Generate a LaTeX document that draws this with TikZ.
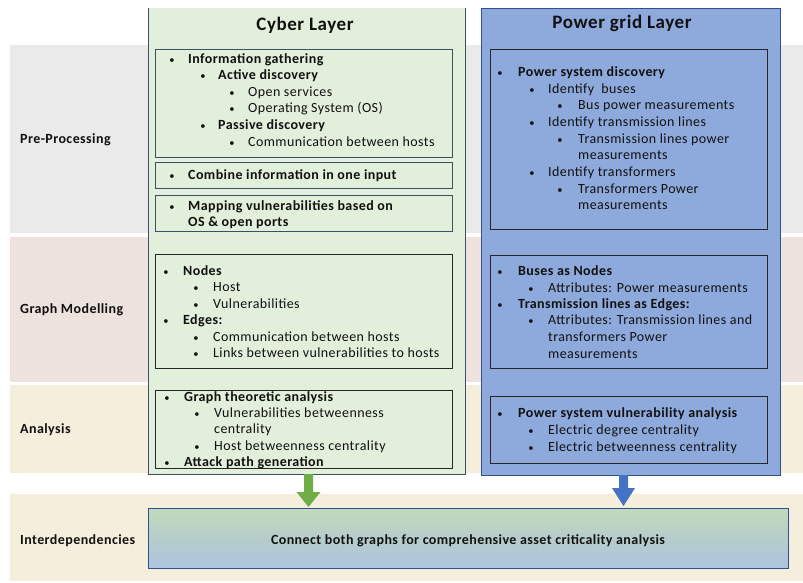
\documentclass[tikz,border=0pt]{standalone}
\usepackage{fontspec}
\setmainfont{Carlito}[LetterSpace=3]
\usetikzlibrary{calc}
\definecolor{bandgray}{HTML}{EBEAEA}
\definecolor{bandpink}{HTML}{EDE2DD}
\definecolor{bandcream}{HTML}{F5EEDC}
\definecolor{cyberfill}{HTML}{E2EFDA}
\definecolor{cyberline}{HTML}{3B4F6B}
\definecolor{powerfill}{HTML}{8EA9DB}
\definecolor{powerline}{HTML}{2F528F}
\definecolor{greenarrow}{HTML}{70AD47}
\definecolor{bluearrow}{HTML}{4472C4}
\definecolor{inkc}{HTML}{111111}
\definecolor{shA}{HTML}{C8D7F0}
\definecolor{shB}{HTML}{ABC0E8}
\definecolor{shC}{HTML}{B6CDCB}
\definecolor{shD}{HTML}{C6E0B4}
\pgfdeclareverticalshading{interfill}{100bp}{
  color(0bp)=(shA);
  color(15bp)=(shB);
  color(50bp)=(shC);
  color(85bp)=(shD);
  color(100bp)=(shD)}
\newcommand{\boxat}[6]{\node[#6, minimum width={(#4-#2)*1pt}, minimum height={(#5-#3)*1pt}] (#1) at ({(#2+#4)/2},{(#3+#5)/2}) {};}
\newcommand{\ent}[6]{\node[bul] (#1b) at (#2,#4) {\textbullet};\node[txt,#6] (#1) at (#3,#4) {#5};}
\begin{document}
\begin{tikzpicture}[x=1pt,y=-1pt,
  txt/.style={anchor=base west,inner sep=0pt,text=inkc,font=\fontsize{14}{16}\selectfont},
  bf/.style={font=\bfseries\fontsize{14}{16}\selectfont},
  bul/.style={anchor=base,inner sep=0pt,text=inkc,font=\fontsize{10.5}{12}\selectfont},
  band/.style={rectangle,inner sep=0pt,outer sep=0pt,draw=none},
  layer/.style={rectangle,inner sep=0pt,outer sep=0pt,line width=1pt},
  inbox/.style={rectangle,inner sep=0pt,outer sep=0pt,draw,line width=0.9pt},
  title/.style={anchor=base,inner sep=0pt,text=inkc,font=\bfseries\fontsize{19}{22}\selectfont},
  lbl/.style={anchor=base west,inner sep=0pt,text=inkc,font=\bfseries\fontsize{14}{16}\selectfont}]
\useasboundingbox (0,0) rectangle (803,582);
% bands
\boxat{bandpre}{10}{45}{803}{233}{band,fill=bandgray}
\boxat{bandgraph}{10}{237}{803}{382}{band,fill=bandpink}
\boxat{bandana}{10}{385}{803}{473}{band,fill=bandcream}
\boxat{bandint}{10}{494}{803}{581}{band,fill=bandcream}
% row labels
\node[lbl] (lpre) at (20,143) {Pre-Processing};
\node[lbl] (lgraph) at (20,313) {Graph Modelling};
\node[lbl] (lana) at (20,433) {Analysis};
\node[lbl] (lint) at (20,544) {Interdependencies};
% layers
\boxat{cyber}{148}{8}{465}{474}{layer,fill=cyberfill}
\draw[cyberline,line width=1pt] (cyber.north west) -- (cyber.south west) -- (cyber.south east) -- (cyber.north east);
\boxat{power}{481}{8}{780}{475}{layer,fill=powerfill,draw=powerline}
\node[title] (cybertitle) at (305,30) {Cyber Layer};
\node[title] (powertitle) at (622,28) {Power grid Layer};
% cyber inner boxes
\boxat{c1}{155}{49}{452}{157}{inbox,draw=cyberline}
\boxat{c2}{155}{162}{452}{188}{inbox,draw=cyberline}
\boxat{c3}{155}{195}{452}{231}{inbox,draw=cyberline}
\boxat{c4}{155}{254}{452}{368}{inbox,draw=black!85}
\boxat{c5}{155}{390}{452}{468}{inbox,draw=black!85}
% power inner boxes
\boxat{p1}{490}{49}{767}{229}{inbox,draw=black!85}
\boxat{p2}{490}{255}{767}{368}{inbox,draw=black!85}
\boxat{p3}{490}{396}{767}{463}{inbox,draw=black!85}
% cyber box 1
\ent{ca}{172}{188}{63}{Information gathering}{bf}
\ent{cb}{203}{218}{79.5}{Active discovery}{bf}
\ent{cc}{232}{248}{96}{Open services}{}
\ent{cd}{232}{248}{112.5}{Operating System (OS)}{}
\ent{ce}{203}{218}{129}{Passive discovery}{bf}
\ent{cf}{232}{248}{146}{Communication between hosts}{}
% cyber box 2, 3
\ent{cg}{172}{188}{179}{Combine information in one input}{bf}
\ent{ch}{172}{188}{210}{Mapping vulnerabilities based on}{bf}
\node[txt,bf] (ci) at (188,226) {OS \& open ports};
% cyber box 4
\ent{cj}{166}{183}{275}{Nodes}{bf}
\ent{ck}{196}{213}{291}{Host}{}
\ent{cl}{196}{213}{308}{Vulnerabilities}{}
\ent{cm}{166}{183}{324}{Edges:}{bf}
\ent{cn}{196}{213}{341}{Communication between hosts}{}
\ent{co}{196}{213}{357}{Links between vulnerabilities to hosts}{}
% cyber box 5
\ent{cp}{167}{184}{401}{Graph theoretic analysis}{bf}
\ent{cq}{197}{214}{417}{Vulnerabilities betweenness}{}
\node[txt] (cr) at (214,433) {centrality};
\ent{cs}{197}{214}{450}{Host betweenness centrality}{}
\ent{ct}{167}{184}{466}{Attack path generation}{bf}
% power box 1
\ent{pa}{500}{518}{76}{Power system discovery}{bf}
\ent{pb}{532}{548}{93}{Identify\ \ buses}{}
\ent{pc}{560}{578}{109}{Bus power measurements}{}
\ent{pd}{532}{548}{126}{Identify transmission lines}{}
\ent{pe}{560}{578}{143}{Transmission lines power}{}
\node[txt] (pf) at (578,159) {measurements};
\ent{pg}{532}{548}{176}{Identify transformers}{}
\ent{ph}{560}{578}{193}{Transformers Power}{}
\node[txt] (pi) at (578,209) {measurements};
% power box 2
\ent{pj}{500}{518}{275}{Buses as Nodes}{bf}
\ent{pk}{531}{548}{292}{Attributes: Power measurements}{}
\ent{pl}{500}{518}{308}{Transmission lines as Edges:}{bf}
\ent{pm}{531}{548}{324}{Attributes: Transmission lines and}{}
\node[txt] (pn) at (548,341) {transformers Power};
\node[txt] (po) at (548,358) {measurements};
% power box 3
\ent{pp}{500}{518}{417}{Power system vulnerability analysis}{bf}
\ent{pq}{531}{548}{434}{Electric degree centrality}{}
\ent{pr}{531}{548}{451}{Electric betweenness centrality}{}
% bottom box
\node[rectangle,inner sep=0pt,outer sep=0pt,draw=powerline,line width=1pt,shading=interfill,
  minimum width=640pt,minimum height=60pt] (inter) at (468,538) {};
\node[anchor=base,inner sep=0pt,text=inkc,font=\bfseries\fontsize{14}{16}\selectfont] (intertext) at (468,544) {Connect both graphs for comprehensive asset criticality analysis};
% arrows
\coordinate (ga) at (308.5,0);
\coordinate (ba) at (623.5,0);
\fill[greenarrow] ($(cyber.south -| ga)+(-4.5,0)$) -- ($(cyber.south -| ga)+(4.5,0)$) -- ($(inter.north -| ga)+(4.5,-16)$) -- ($(inter.north -| ga)+(12,-16)$) -- ($(inter.north -| ga)+(0,-1)$) -- ($(inter.north -| ga)+(-12,-16)$) -- ($(inter.north -| ga)+(-4.5,-16)$) -- cycle;
\fill[bluearrow] ($(power.south -| ba)+(-4.5,0)$) -- ($(power.south -| ba)+(4.5,0)$) -- ($(inter.north -| ba)+(4.5,-20)$) -- ($(inter.north -| ba)+(11.5,-20)$) -- ($(inter.north -| ba)+(0,-2)$) -- ($(inter.north -| ba)+(-11.5,-20)$) -- ($(inter.north -| ba)+(-4.5,-20)$) -- cycle;
\end{tikzpicture}
\end{document}
